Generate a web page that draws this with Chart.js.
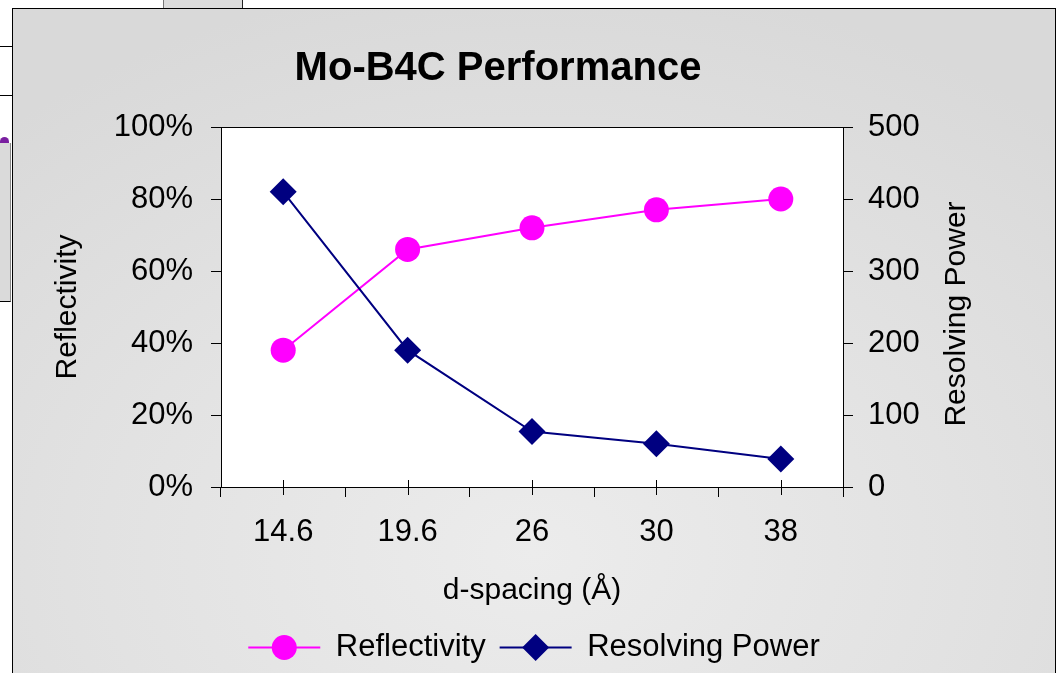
<!DOCTYPE html>
<html>
<head>
<meta charset="utf-8">
<title>Mo-B4C Performance</title>
<script src="https://cdn.jsdelivr.net/npm/chart.js@4"></script>
<style>
  html, body {
    margin: 0;
    padding: 0;
    width: 1059px;
    height: 673px;
    overflow: hidden;
    background: #fff;
    position: relative;
  }
  #frame {
    position: absolute;
    left: 12px;
    top: 8px;
    width: 1042px;
    height: 680px;
    border: 1px solid #000;
    background: radial-gradient(ellipse 75% 85% at 50% 80%, #ececec 0%, #e2e2e2 55%, #d9d9d9 100%);
  }
  #chart {
    position: absolute;
    left: 0;
    top: 0;
  }
  /* bits of the sheet around the chart */
  .rule { position: absolute; left: 0; width: 12px; height: 1px; background: #000; }
  #tab {
    position: absolute; left: 163px; top: 0; width: 78px; height: 8px;
    background: #dcdcdc; border-left: 1px solid #777; border-right: 1px solid #222;
  }
  #side {
    position: absolute; left: 0; top: 143px; width: 10px; height: 158px;
    background: #dadada; border-right: 1px solid #888; border-bottom: 1px solid #000;
  }
  #nub {
    position: absolute; left: 0; top: 137px; width: 9px; height: 6px;
    background: #7a1fa0; border-radius: 5px 5px 0 0;
  }
</style>
</head>
<body>
<div id="tab"></div>
<div class="rule" style="top:46px"></div>
<div class="rule" style="top:95px"></div>
<div id="nub"></div>
<div id="side"></div>
<div id="frame">
  <canvas id="chart" width="1042" height="664"></canvas>
</div>
<script>
const chartTitle = 'Mo-B4C Performance';
const xTitle = 'd-spacing (Å)';
const leftTitle = 'Reflectivity';
const rightTitle = 'Resolving Power';

const dSpacing = ['14.6', '19.6', '26', '30', '38'];
const reflectivity = [38, 66, 72, 77, 80];        // percent
const resolvingPower = [410, 190, 77, 60, 39];

const FONT = '"Liberation Sans", Arial, sans-serif';
const PINK = '#ff00ff';
const NAVY = '#000080';
const MARKER_R = 12.5;

function drawMarker(ctx, style, x, y, color) {
  ctx.fillStyle = color;
  ctx.beginPath();
  if (style === 'circle') {
    ctx.arc(x, y, MARKER_R, 0, Math.PI * 2);
  } else {
    const r = MARKER_R + 1;
    ctx.moveTo(x, y - r);
    ctx.lineTo(x + r, y);
    ctx.lineTo(x, y + r);
    ctx.lineTo(x - r, y);
    ctx.closePath();
  }
  ctx.fill();
}

const plotFrame = {
  id: 'plotFrame',
  beforeDraw(chart) {
    const { ctx, chartArea: a } = chart;
    ctx.save();
    ctx.fillStyle = '#fff';
    ctx.fillRect(a.left, a.top, a.width, a.height);
    ctx.restore();
  },
  afterDraw(chart) {
    const { ctx, chartArea: a, scales } = chart;
    ctx.save();

    // box round the plot
    ctx.strokeStyle = '#000';
    ctx.lineWidth = 1;
    ctx.strokeRect(Math.round(a.left) + 0.5, Math.round(a.top) + 0.5,
                   Math.round(a.width), Math.round(a.height));

    // short ticks across the axis at each category
    const xs = scales.x;
    ctx.beginPath();
    dSpacing.forEach((_, i) => {
      const px = Math.round(xs.getPixelForValue(i)) + 0.5;
      ctx.moveTo(px, a.bottom - 7);
      ctx.lineTo(px, a.bottom + 8);
    });
    ctx.stroke();

    // chart title
    ctx.fillStyle = '#000';
    ctx.textAlign = 'center';
    ctx.textBaseline = 'middle';
    ctx.font = 'bold 40px ' + FONT;
    ctx.fillText(chartTitle, (a.left + a.right) / 2 - 34, a.top - 58);

    // right axis title, reading upward
    const y2 = scales.y2;
    ctx.save();
    ctx.translate(y2.right - 98, (a.top + a.bottom) / 2 + 7);
    ctx.rotate(-Math.PI / 2);
    ctx.font = '30px ' + FONT;
    ctx.fillText(rightTitle, 0, 0);
    ctx.restore();

    // markers on the legend lines
    const styles = ['circle', 'diamond'];
    const colors = [PINK, NAVY];
    const boxW = chart.options.plugins.legend.labels.boxWidth;
    (chart.legend.legendHitBoxes || []).forEach((hb, i) => {
      drawMarker(ctx, styles[i], hb.left + boxW / 2, hb.top + hb.height / 2, colors[i]);
    });

    ctx.restore();
  }
};

const tickFont = { family: FONT, size: 31 };
const titleFont = { family: FONT, size: 30 };

new Chart(document.getElementById('chart'), {
  type: 'line',
  data: {
    labels: dSpacing,
    datasets: [
      {
        label: 'Reflectivity',
        data: reflectivity,
        yAxisID: 'y',
        borderColor: PINK,
        backgroundColor: PINK,
        borderWidth: 2,
        pointStyle: 'circle',
        pointRadius: MARKER_R,
        pointBorderWidth: 0,
        pointBackgroundColor: PINK,
        tension: 0,
        order: 2
      },
      {
        label: 'Resolving Power',
        data: resolvingPower,
        yAxisID: 'y2',
        borderColor: NAVY,
        backgroundColor: NAVY,
        borderWidth: 2,
        pointStyle: 'rectRot',
        pointRadius: MARKER_R + 1,
        pointBorderWidth: 0,
        pointBackgroundColor: NAVY,
        tension: 0,
        order: 1
      }
    ]
  },
  options: {
    responsive: false,
    animation: false,
    events: [],
    layout: { padding: { top: 118, left: 0, right: 0, bottom: 0 } },
    plugins: {
      title: { display: false },
      tooltip: { enabled: false },
      legend: {
        position: 'bottom',
        labels: {
          color: '#000',
          font: { family: FONT, size: 31 },
          boxWidth: 72,
          boxHeight: 2,
          padding: 14,
          generateLabels: chart => chart.data.datasets.map((ds, i) => ({
            text: ds.label,
            fillStyle: ds.borderColor,
            strokeStyle: ds.borderColor,
            lineWidth: 0,
            fontColor: '#000',
            datasetIndex: i,
            hidden: false
          }))
        }
      }
    },
    scales: {
      x: {
        offset: true,
        grid: { offset: true, drawOnChartArea: false, tickLength: 10, color: '#000' },
        border: { color: '#000' },
        ticks: { color: '#000', font: tickFont, padding: 17, maxRotation: 0 },
        title: { display: true, text: xTitle, color: '#000', font: titleFont, padding: { top: 0, bottom: 9 } },
        afterFit: s => { s.height = 131; }
      },
      y: {
        position: 'left',
        min: 0,
        max: 100,
        grid: { drawOnChartArea: false, tickLength: 10, color: '#000' },
        border: { color: '#000' },
        ticks: { stepSize: 20, color: '#000', font: tickFont, padding: 18, callback: v => v + '%' },
        title: { display: true, text: leftTitle, color: '#000', font: titleFont, padding: { top: 37, bottom: 0 } },
        afterFit: s => { s.width = 208; }
      },
      y2: {
        position: 'right',
        min: 0,
        max: 500,
        grid: { drawOnChartArea: false, tickLength: 10, color: '#000' },
        border: { color: '#000' },
        ticks: { stepSize: 100, color: '#000', font: tickFont, padding: 15 },
        afterFit: s => { s.width = 212; }
      }
    }
  },
  plugins: [plotFrame]
});
</script>
</body>
</html>
